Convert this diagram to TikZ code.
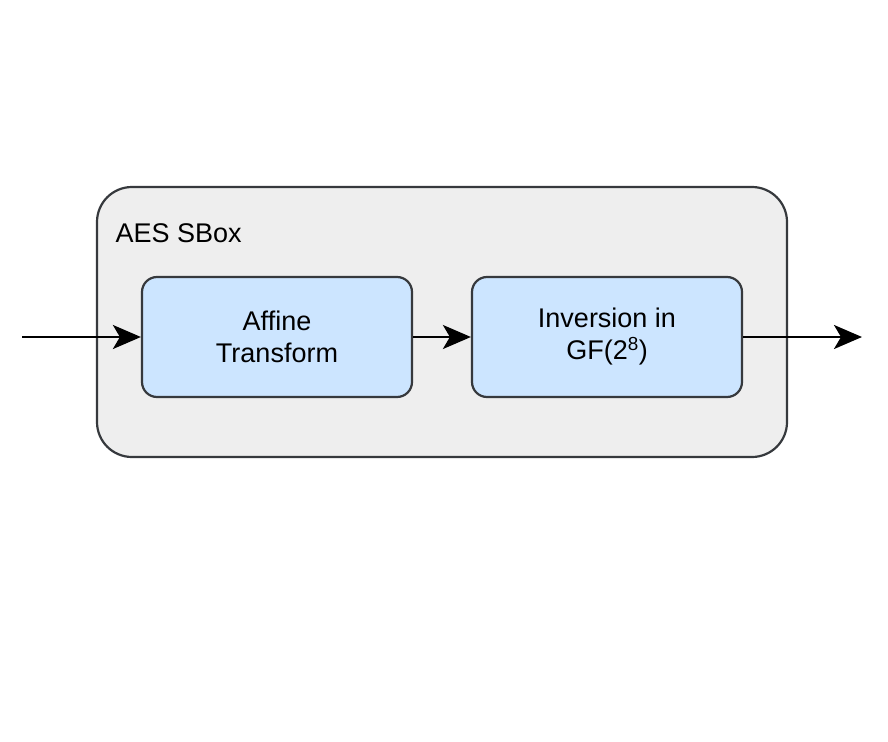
\documentclass[tikz,border=0pt]{standalone}
\usepackage{fontspec}
\setmainfont{Liberation Sans}
\usetikzlibrary{arrows.meta}
\definecolor{outerfill}{HTML}{EEEEEE}
\definecolor{edgegray}{HTML}{36393D}
\definecolor{blockfill}{HTML}{CCE5FF}
\begin{document}
\begin{tikzpicture}[x=1pt,y=-1pt,
  blockbox/.style={draw=edgegray,line width=2.2pt,fill=blockfill,rounded corners=15pt,
    minimum width=270pt,minimum height=120pt,align=center,font=\fontsize{27}{32}\selectfont},
  flow/.style={line width=2.5pt,-{Stealth[length=28pt,width=24pt,inset=7pt]}}]
\useasboundingbox (0,0) rectangle (888,741);
\draw[draw=edgegray,line width=2.2pt,fill=outerfill,rounded corners=35pt] (97,187) rectangle (787,457);
\node[anchor=west,font=\fontsize{27}{32}\selectfont] (title) at (112,233) {AES SBox};
\node[blockbox] (affine) at (277,337) {Affine\\Transform};
\node[blockbox] (inv) at (607,337) {Inversion in\\GF(2\textsuperscript{8})};
\coordinate (in) at (22,337);
\coordinate (out) at (862,337);
\draw[flow] (in) -- (affine);
\draw[flow] (affine) -- (inv);
\draw[flow] (inv) -- (out);
\end{tikzpicture}
\end{document}
